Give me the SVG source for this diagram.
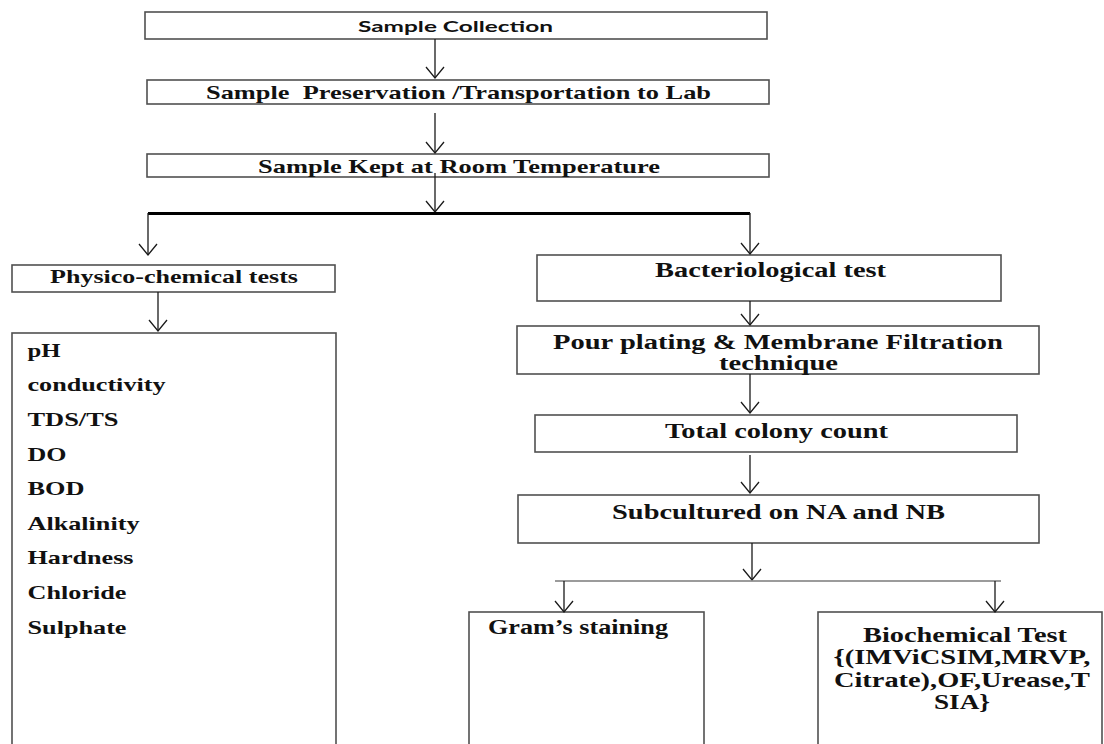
<svg xmlns="http://www.w3.org/2000/svg" width="1104" height="744" viewBox="0 0 1104 744">
<defs>
<style>
.box{fill:#fff;stroke:#505050;stroke-width:1.6}
.t{font-family:"Liberation Serif","Times New Roman",serif;font-weight:bold;font-size:19px;fill:#111}
.tb{font-family:"Liberation Serif","Times New Roman",serif;font-weight:bold;font-size:20px;fill:#111}
.ts{font-family:Lato,"Carlito","Liberation Sans",sans-serif;font-weight:bold;font-size:16px;fill:#111}
.c{fill:none;stroke:#1a1a1a;stroke-width:1.3}
.thick{fill:none;stroke:#000;stroke-width:3.2}
.thin{fill:none;stroke:#7a7a7a;stroke-width:1.6}
</style>
<marker id="ah" markerUnits="userSpaceOnUse" orient="auto" overflow="visible" markerWidth="20" markerHeight="20" refX="0" refY="0">
<path d="M-11,-9 L0,0 L-11,9" fill="none" stroke="#1a1a1a" stroke-width="1.3"/>
</marker>
</defs>

<g id="n-collection">
<rect class="box" x="145" y="12" width="622" height="27"/>
<text class="ts" x="358" y="32" textLength="195" lengthAdjust="spacingAndGlyphs">Sample Collection</text>
</g>
<g id="n-preservation">
<rect class="box" x="147" y="80" width="622" height="24"/>
<text class="t" x="206" y="98.5" textLength="505" lengthAdjust="spacingAndGlyphs" style="white-space:pre">Sample  Preservation /Transportation to Lab</text>
</g>
<g id="n-room">
<rect class="box" x="147" y="154" width="622" height="23"/>
<text class="t" x="258" y="172.5" textLength="402" lengthAdjust="spacingAndGlyphs">Sample Kept at Room Temperature</text>
</g>
<g id="n-physico">
<rect class="box" x="12" y="265" width="323" height="27"/>
<text class="t" x="50" y="282.5" textLength="248" lengthAdjust="spacingAndGlyphs">Physico-chemical tests</text>
</g>
<g id="n-list">
<rect class="box" x="12" y="333" width="324" height="430"/>
<text class="t" x="27.5" y="356.8" textLength="33" lengthAdjust="spacingAndGlyphs">pH</text>
<text class="t" x="27.5" y="391.4" textLength="138" lengthAdjust="spacingAndGlyphs">conductivity</text>
<text class="t" x="27.5" y="426" textLength="91" lengthAdjust="spacingAndGlyphs">TDS/TS</text>
<text class="t" x="27.5" y="460.6" textLength="39" lengthAdjust="spacingAndGlyphs">DO</text>
<text class="t" x="27.5" y="495.2" textLength="57" lengthAdjust="spacingAndGlyphs">BOD</text>
<text class="t" x="27.5" y="529.8" textLength="112" lengthAdjust="spacingAndGlyphs">Alkalinity</text>
<text class="t" x="27.5" y="564.4" textLength="106" lengthAdjust="spacingAndGlyphs">Hardness</text>
<text class="t" x="27.5" y="599" textLength="99" lengthAdjust="spacingAndGlyphs">Chloride</text>
<text class="t" x="27.5" y="633.6" textLength="99" lengthAdjust="spacingAndGlyphs">Sulphate</text>
</g>
<g id="n-bacterio">
<rect class="box" x="537" y="255" width="464" height="46"/>
<text class="tb" x="655" y="277" textLength="231" lengthAdjust="spacingAndGlyphs">Bacteriological test</text>
</g>
<g id="n-pour">
<rect class="box" x="517" y="326" width="522" height="48"/>
<text class="tb" x="553" y="349" textLength="450" lengthAdjust="spacingAndGlyphs">Pour plating &amp; Membrane Filtration</text>
<text class="tb" x="719" y="370" textLength="119" lengthAdjust="spacingAndGlyphs">technique</text>
</g>
<g id="n-total">
<rect class="box" x="535" y="415" width="482" height="37"/>
<text class="tb" x="665" y="437.5" textLength="223" lengthAdjust="spacingAndGlyphs">Total colony count</text>
</g>
<g id="n-sub">
<rect class="box" x="518" y="495" width="521" height="48"/>
<text class="tb" x="612" y="518.5" textLength="333" lengthAdjust="spacingAndGlyphs">Subcultured on NA and NB</text>
</g>
<g id="n-gram">
<rect class="box" x="469" y="612" width="235" height="150"/>
<text class="tb" x="488" y="634" textLength="180" lengthAdjust="spacingAndGlyphs">Gram’s staining</text>
</g>
<g id="n-biochem">
<rect class="box" x="818" y="612" width="284" height="150"/>
<text class="tb" x="863" y="641.5" textLength="204" lengthAdjust="spacingAndGlyphs">Biochemical Test</text>
<text class="tb" x="833.5" y="664" textLength="257" lengthAdjust="spacingAndGlyphs">{(IMViCSIM,MRVP,</text>
<text class="tb" x="834" y="686.5" textLength="256" lengthAdjust="spacingAndGlyphs">Citrate),OF,Urease,T</text>
<text class="tb" x="934" y="709" textLength="56" lengthAdjust="spacingAndGlyphs">SIA}</text>
</g>

<g id="connectors">
<path class="c" d="M435,39 V78" marker-end="url(#ah)"/>
<path class="c" d="M435,113 V153" marker-end="url(#ah)"/>
<path class="c" d="M435,173 V212" marker-end="url(#ah)"/>
<path class="thick" d="M148,213.5 H750"/>
<path class="c" d="M148,213 V255" marker-end="url(#ah)"/>
<path class="c" d="M750,213 V254" marker-end="url(#ah)"/>
<path class="c" d="M158,292 V331" marker-end="url(#ah)"/>
<path class="c" d="M750,301 V325" marker-end="url(#ah)"/>
<path class="c" d="M750,374 V413" marker-end="url(#ah)"/>
<path class="c" d="M750,455 V493" marker-end="url(#ah)"/>
<path class="c" d="M752,543 V580" marker-end="url(#ah)"/>
<path class="thin" d="M555,581 H1001"/>
<path class="c" d="M564,581 V612" marker-end="url(#ah)"/>
<path class="c" d="M995,581 V612" marker-end="url(#ah)"/>
</g>
</svg>
